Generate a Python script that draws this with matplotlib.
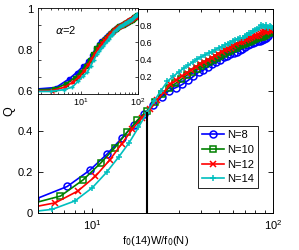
import numpy as np
import matplotlib
matplotlib.use("Agg")
from matplotlib import pyplot as plt
from matplotlib.ticker import LogLocator, NullFormatter

plt.rcParams['font.family'] = ['Liberation Sans', 'DejaVu Sans']

labels = ["N=8", "N=10", "N=12", "N=14"]
colors = ["#0000ff", "#008000", "#ff0000", "#00bfbf"]
markers = ["o", "s", "x", "+"]
# f0(14)/f0(N)
ratios = [1.21, 1.11, 1.04, 1.0]

# main panel, Q vs W (W = 4, 6, 8, ...)
q_main = [
    [0.068, 0.13, 0.21, 0.29, 0.366, 0.43, 0.485, 0.53, 0.57, 0.60, 0.615, 0.63,
     0.65, 0.67, 0.69, 0.70, 0.715, 0.73, 0.74, 0.75, 0.765, 0.77, 0.78, 0.785,
     0.79, 0.80, 0.805, 0.815, 0.822, 0.83, 0.835, 0.84, 0.845, 0.845, 0.85,
     0.855, 0.86, 0.87, 0.88, 0.89, 0.895],
    [0.042, 0.083, 0.162, 0.244, 0.32, 0.395, 0.455, 0.50, 0.545, 0.585, 0.615,
     0.635, 0.655, 0.675, 0.69, 0.705, 0.72, 0.73, 0.74, 0.75, 0.76, 0.77, 0.78,
     0.79, 0.795, 0.805, 0.81, 0.82, 0.825, 0.83, 0.835, 0.84, 0.845, 0.85, 0.855,
     0.86, 0.865, 0.865, 0.87, 0.875, 0.88, 0.88, 0.885, 0.89],
    [0.02, 0.05, 0.108, 0.18, 0.26, 0.34, 0.41, 0.465, 0.51, 0.555, 0.595, 0.63,
     0.65, 0.67, 0.685, 0.70, 0.715, 0.73, 0.74, 0.75, 0.76, 0.77, 0.78, 0.79,
     0.80, 0.805, 0.81, 0.82, 0.83, 0.84, 0.84, 0.845, 0.85, 0.855, 0.86, 0.865,
     0.87, 0.87, 0.875, 0.88, 0.885, 0.89, 0.885, 0.89, 0.895, 0.89, 0.895],
    [0.0, 0.018, 0.059, 0.124, 0.20, 0.275, 0.345, 0.42, 0.49, 0.55, 0.60, 0.645,
     0.67, 0.69, 0.71, 0.725, 0.74, 0.755, 0.765, 0.775, 0.785, 0.79, 0.80, 0.81,
     0.815, 0.825, 0.83, 0.835, 0.845, 0.85, 0.855, 0.858, 0.86, 0.87, 0.875,
     0.88, 0.88, 0.89, 0.895, 0.90, 0.905, 0.92, 0.915, 0.91, 0.92, 0.905,
     0.915, 0.91, 0.905],
]

# inset (alpha=2), Q vs W (W = 1, 3, 5, ...)
q_inset = [
    [0.05, 0.075, 0.17, 0.25, 0.32, 0.38, 0.45, 0.53, 0.58, 0.615, 0.64, 0.665,
     0.685, 0.705, 0.72, 0.735, 0.75, 0.765, 0.78, 0.785, 0.79, 0.80, 0.805,
     0.81, 0.815, 0.82, 0.83, 0.84, 0.845, 0.85, 0.855, 0.86, 0.865, 0.87, 0.88,
     0.89, 0.895, 0.90, 0.905, 0.91, 0.915, 0.92],
    [0.045, 0.055, 0.12, 0.19, 0.26, 0.33, 0.40, 0.47, 0.53, 0.57, 0.60, 0.63,
     0.655, 0.68, 0.70, 0.715, 0.73, 0.745, 0.76, 0.77, 0.78, 0.785, 0.79, 0.80,
     0.805, 0.81, 0.815, 0.82, 0.83, 0.835, 0.84, 0.845, 0.85, 0.855, 0.86,
     0.865, 0.87, 0.875, 0.88, 0.89, 0.895, 0.90, 0.905, 0.91, 0.915],
    [0.035, 0.04, 0.08, 0.14, 0.20, 0.27, 0.34, 0.41, 0.47, 0.52, 0.56, 0.595,
     0.625, 0.65, 0.675, 0.695, 0.71, 0.725, 0.74, 0.755, 0.765, 0.775, 0.78,
     0.79, 0.795, 0.80, 0.81, 0.815, 0.82, 0.83, 0.835, 0.84, 0.845, 0.85, 0.855,
     0.86, 0.865, 0.87, 0.875, 0.88, 0.885, 0.89, 0.89, 0.895, 0.90, 0.895,
     0.90, 0.90],
    [0.03, 0.03, 0.05, 0.08, 0.15, 0.21, 0.255, 0.33, 0.40, 0.46, 0.50, 0.53,
     0.56, 0.59, 0.62, 0.645, 0.67, 0.69, 0.71, 0.73, 0.74, 0.755, 0.765, 0.775,
     0.785, 0.79, 0.80, 0.805, 0.81, 0.82, 0.825, 0.83, 0.835, 0.84, 0.845,
     0.85, 0.855, 0.86, 0.865, 0.87, 0.875, 0.88, 0.89, 0.90, 0.905, 0.91,
     0.915, 0.92, 0.92, 0.925],
]

vline_x = 20
vline_top = 0.49

fig = plt.figure(figsize=(2.99, 2.5), dpi=100)
ax = fig.add_axes([0.127, 0.148, 0.786, 0.816])

for q, r, c, m, lab in zip(q_main, ratios, colors, markers, labels):
    W = np.arange(4, 4 + 2 * len(q), 2)
    ax.plot(W * r, q, color=c, marker=m, ms=5, mew=1.1, mfc='none', lw=1.2,
            label=lab)

ax.plot([vline_x, vline_x], [0, vline_top], color='k', lw=1.5)

ax.set_xscale('log')
ax.set_xlim(5, 100)
ax.set_ylim(0, 1)
ax.set_yticks([0, 0.2, 0.4, 0.6, 0.8, 1])
ax.set_yticklabels(["0", "0.2", "0.4", "0.6", "0.8", "1"])
ax.xaxis.set_minor_locator(LogLocator(base=10, subs=np.arange(2, 10)))
ax.xaxis.set_minor_formatter(NullFormatter())
ax.tick_params(which='both', direction='in', top=True, right=True,
               labelsize=8, width=0.6)
ax.tick_params(which='major', length=3.5)
ax.tick_params(which='minor', length=2)
for s in ax.spines.values():
    s.set_linewidth(0.7)
ax.set_xlabel("f$_0$(14)W/f$_0$(N)", fontsize=8, labelpad=2)
ax.set_ylabel("Q", fontsize=9, labelpad=2)

leg = ax.legend(loc='lower right', bbox_to_anchor=(0.96, 0.095), fontsize=8,
                handlelength=2.0, handletextpad=0.3, borderpad=0.35,
                labelspacing=0.42, fancybox=False, framealpha=1)
leg.get_frame().set_edgecolor('k')
leg.get_frame().set_linewidth(0.6)

# inset
ins = fig.add_axes([0.127, 0.624, 0.333, 0.344])
for q, r, c, m in zip(q_inset, ratios, colors, markers):
    W = np.arange(1, 1 + 2 * len(q), 2)
    ins.plot(W * r, q, color=c, marker=m, ms=3, mew=1.0, lw=1.3)

ins.set_xscale('log')
ins.set_xlim(1.75, 100)
ins.set_ylim(0, 1)
ins.set_yticks([0.2, 0.4, 0.6, 0.8])
ins.set_yticklabels(["0.2", "0.4", "0.6", "0.8"])
ins.xaxis.set_minor_locator(LogLocator(base=10, subs=np.arange(2, 10)))
ins.xaxis.set_minor_formatter(NullFormatter())
ins.tick_params(which='both', direction='in', top=True, right=True, left=True,
                labelleft=False, labelright=True, labelsize=6.5, width=0.5,
                pad=1.5)
ins.tick_params(which='major', length=2.5)
ins.tick_params(which='minor', length=1.5)
for s in ins.spines.values():
    s.set_linewidth(0.6)
ins.text(0.17, 0.74, r"$\alpha$=2", transform=ins.transAxes, fontsize=8,
         ha='left', va='center')

fig.savefig("out.png", dpi=100)
